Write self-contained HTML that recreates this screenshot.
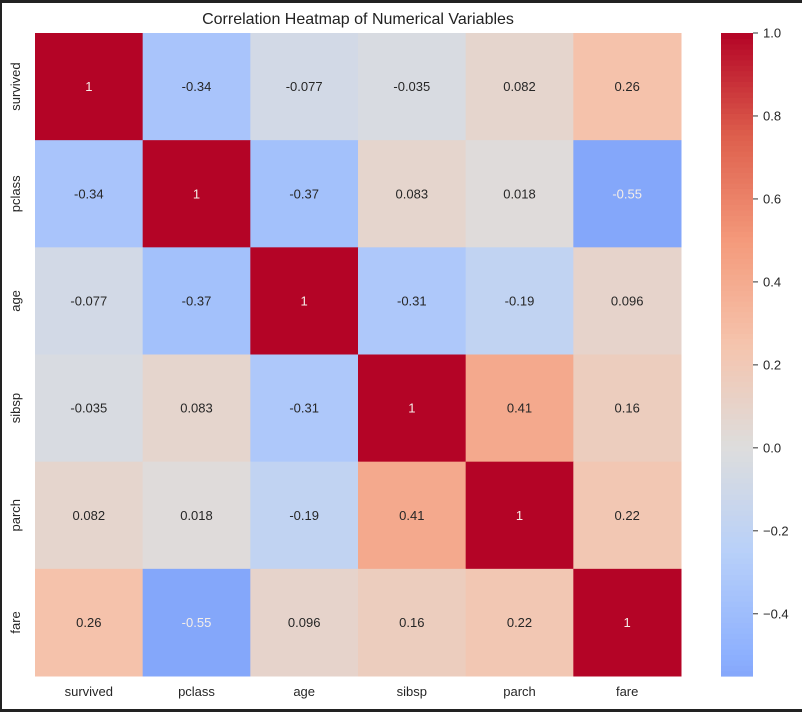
<!DOCTYPE html>
<html><head><meta charset="utf-8"><style>
html,body{margin:0;padding:0;background:#fff;}
#wrap{position:relative;width:802px;height:712px;overflow:hidden;background:#fff;}
svg text{font-family:"Liberation Sans",sans-serif;}
</style></head><body>
<div id="wrap">
<svg id="svg" width="802" height="712" xmlns="http://www.w3.org/2000/svg">
<rect x="0" y="0" width="802" height="3" fill="#222"/>
<rect x="0" y="0" width="2" height="712" fill="#222"/>
<rect x="0" y="709" width="802" height="3" fill="#222"/>
<text x="358" y="24" font-size="16" text-anchor="middle" fill="#222">Correlation Heatmap of Numerical Variables</text>
<g id="cells"></g>
<g id="cbar"></g>
</svg>
</div>
<script>
const labels = ["survived","pclass","age","sibsp","parch","fare"];
const values = [
 [1,-0.34,-0.077,-0.035,0.082,0.26],
 [-0.34,1,-0.37,0.083,0.018,-0.55],
 [-0.077,-0.37,1,-0.31,-0.19,0.096],
 [-0.035,0.083,-0.31,1,0.41,0.16],
 [0.082,0.018,-0.19,0.41,1,0.22],
 [0.26,-0.55,0.096,0.16,0.22,1]
];
const cbTicks = [1.0,0.8,0.6,0.4,0.2,0.0,-0.2,-0.4];
const vmin = -0.55, vmax = 1;
const NS="http://www.w3.org/2000/svg";
const X0=35,Y0=33,W=646,H=643;
const cw=W/labels.length, ch=H/labels.length;
const cmap=[[59,76,192],[98,130,234],[141,176,254],[184,208,249],[221,221,221],[245,196,173],[244,154,123],[222,96,77],[180,4,38]];
function color(v){let t=(v+1)/2;t=Math.max(0,Math.min(1,t));
 const p=t*8,i=Math.min(7,Math.floor(p)),f=p-i;
 return cmap[i].map((a,k)=>Math.round(a+(cmap[i+1][k]-a)*f));}
function rgb(c){return `rgb(${c[0]},${c[1]},${c[2]})`;}
function lin(x){x/=255;return x<=0.03928?x/12.92:Math.pow((x+0.055)/1.055,2.4);}
function xS(i){return X0+i*cw;} function yS(j){return Y0+j*ch;}
const g=document.getElementById('cells');
function el(tag,attrs,parent){const e=document.createElementNS(NS,tag);for(const k in attrs)e.setAttribute(k,attrs[k]);parent.appendChild(e);return e;}
values.forEach((row,j)=>row.forEach((v,i)=>{
 const c=color(v);
 const r=el('rect',{x:xS(i),y:yS(j),width:cw+0.5,height:ch+0.5,fill:rgb(c)},g);
 
 
 const lum=0.2126*lin(c[0])+0.7152*lin(c[1])+0.0722*lin(c[2]);
 const t=el('text',{x:xS(i)+cw/2,y:yS(j)+ch/2+4.5,'font-size':13,'text-anchor':'middle',fill:lum<0.408?'#f5eee8':'#262626'},g);
 t.textContent=String(v);
 
 
}));
labels.forEach((l,i)=>{
 const t=el('text',{x:xS(i)+cw/2,y:696,'font-size':13,'text-anchor':'middle',fill:'#262626'},g);
 t.textContent=l;
 
 
 const cy=yS(i)+ch/2;
 const t2=el('text',{x:20,y:cy,'font-size':13,'text-anchor':'middle',fill:'#262626',transform:`rotate(-90 20 ${cy})`},g);
 t2.textContent=l;
 
 
});
const cb=document.getElementById('cbar');
const CX=721,CW=32,CY0=33,CY1=676;
function cbY(v){return CY1-(v-vmin)/(vmax-vmin)*(CY1-CY0);}
const N=120;
for(let k=0;k<N;k++){
 const v0=vmin+(vmax-vmin)*k/N, v1=vmin+(vmax-vmin)*(k+1)/N;
 const r=el('rect',{x:CX,y:cbY(v1),width:CW,height:cbY(v0)-cbY(v1)+0.6,fill:rgb(color((v0+v1)/2))},cb);
 
 
}
cbTicks.forEach(v=>{
 const y=cbY(v);
 const l=el('line',{x1:CX+CW,x2:CX+CW+5,y1:y,y2:y,stroke:'#333','stroke-width':1},cb);
 
 
 const t=el('text',{x:CX+CW+10,y:y+4.5,'font-size':13,fill:'#262626'},cb);
 t.textContent=(v<0?'\u2212':'')+Math.abs(v).toFixed(1);
 
 
});
</script>
</body></html>
